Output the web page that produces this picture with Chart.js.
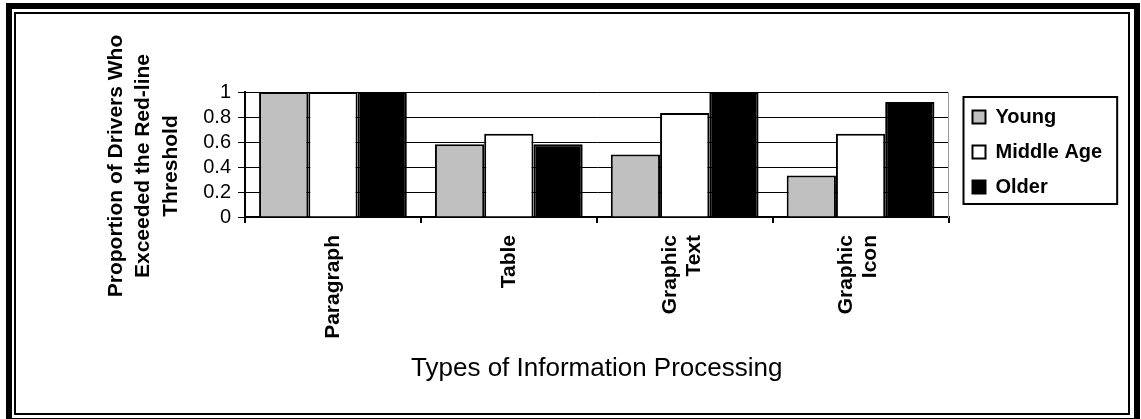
<!DOCTYPE html>
<html>
<head>
<meta charset="utf-8">
<script src="https://cdn.jsdelivr.net/npm/chart.js@4.4.0/dist/chart.umd.min.js"></script>
<style>
  html, body { margin: 0; padding: 0; background: #fff; }
  #wrap { position: relative; width: 1141px; height: 419px; overflow: hidden; }
  #chart { position: absolute; left: 0; top: 0; }
  .frame { position: absolute; box-sizing: border-box; border-style: solid; border-color: #000; pointer-events: none; }
  #outer { left: 6px; top: 3px; width: 1134px; height: 421px; border-width: 6px; }
  #inner { left: 14px; top: 12px; width: 1116px; height: 403px; border-width: 2px; }
</style>
</head>
<body>
<div id="wrap">
  <canvas id="chart" width="1141" height="419"></canvas>
  <div class="frame" id="outer"></div>
  <div class="frame" id="inner"></div>
</div>
<script>
// data
var categories = ['Paragraph', 'Table', ['Graphic', 'Text'], ['Graphic', 'Icon']];
var young = [1, 0.583, 0.5, 0.333];
var middleAge = [1, 0.667, 0.833, 0.667];
var older = [1, 0.583, 1, 0.92];
var seriesNames = ['Young', 'Middle Age', 'Older'];
var yTitle = ['Proportion of Drivers Who', 'Exceeded the Red-line', 'Threshold'];
var xTitle = 'Types of Information Processing';

var FONT = '"Liberation Sans", Arial, Helvetica, sans-serif';
Chart.defaults.font.family = FONT;
Chart.defaults.color = '#000';

// box around the legend
var legendFrame = {
  id: 'legendFrame',
  afterDraw: function(chart) {
    var hb = chart.legend.legendHitBoxes;
    if (!hb || !hb.length) return;
    var left = hb[0].left - 9, right = 0;
    hb.forEach(function(b) { right = Math.max(right, b.left + b.width); });
    right += 15;
    var top = hb[0].top - 10;
    var last = hb[hb.length - 1];
    var bottom = last.top + last.height + 7;
    var ctx = chart.ctx;
    ctx.save();
    ctx.strokeStyle = '#000';
    ctx.lineWidth = 2;
    ctx.strokeRect(left, top, right - left, bottom - top);
    ctx.restore();
  }
};

// three line y title, sits a bit below the plot centre like the original
var yTitlePlugin = {
  id: 'yTitle',
  afterDraw: function(chart) {
    var a = chart.chartArea, ctx = chart.ctx;
    ctx.save();
    ctx.font = 'bold 21px ' + FONT;
    ctx.fillStyle = '#000';
    ctx.textAlign = 'center';
    ctx.textBaseline = 'middle';
    yTitle.forEach(function(line, i) {
      ctx.save();
      ctx.translate(a.left - 129 + i * 27.5, (a.top + a.bottom) / 2 + 11.5);
      ctx.rotate(-Math.PI / 2);
      ctx.fillText(line, 0, 0);
      ctx.restore();
    });
    ctx.restore();
  }
};

// category labels: rotated, multi-line ones centred on the tick as a block
var xLabels = {
  id: 'xLabels',
  afterDraw: function(chart) {
    var s = chart.scales.x, ctx = chart.ctx;
    ctx.save();
    ctx.font = 'bold 21px ' + FONT;
    ctx.fillStyle = '#000';
    ctx.textAlign = 'right';
    ctx.textBaseline = 'middle';
    categories.forEach(function(lab, i) {
      var lines = [].concat(lab);
      var px = s.getPixelForTick(i);
      lines.forEach(function(line, j) {
        ctx.save();
        ctx.translate(px + (j - (lines.length - 1) / 2) * 24 - (lines.length - 1) * 2, s.top + 18);
        ctx.rotate(-Math.PI / 2);
        ctx.fillText(line, 0, 0);
        ctx.restore();
      });
    });
    ctx.restore();
  }
};

function barSet(label, data, fill) {
  return {
    label: label,
    data: data,
    backgroundColor: fill,
    borderColor: '#000',
    borderWidth: 2,
    barPercentage: 1.0,
    categoryPercentage: 0.84
  };
}

new Chart(document.getElementById('chart'), {
  type: 'bar',
  data: {
    labels: categories,
    datasets: [
      barSet(seriesNames[0], young, '#c0c0c0'),
      barSet(seriesNames[1], middleAge, '#ffffff'),
      barSet(seriesNames[2], older, '#000000')
    ]
  },
  options: {
    responsive: false,
    animation: false,
    events: [],
    layout: { padding: { left: 185, top: 92, right: 29, bottom: 0 } },
    plugins: {
      tooltip: { enabled: false },
      legend: {
        position: 'right',
        align: 'start',
        labels: {
          boxWidth: 13,
          boxHeight: 13,
          padding: 15,
          color: '#000',
          font: { size: 20, weight: 'bold' }
        }
      }
    },
    scales: {
      x: {
        ticks: { display: false },
        grid: { display: true, drawOnChartArea: false, color: '#000', lineWidth: 2, tickLength: 6, offset: true },
        border: { color: '#000', width: 2 },
        title: { display: true, text: xTitle, color: '#000', font: { size: 26 }, padding: { top: 0, bottom: 35 } },
        afterFit: function(s) { s.height = 202; }
      },
      y: {
        min: 0,
        max: 1,
        ticks: {
          stepSize: 0.2,
          autoSkip: false,
          color: '#000',
          font: { size: 20, lineHeight: 1 },
          padding: 7,
          callback: function(v) { return String(parseFloat(v.toFixed(1))); }
        },
        grid: { color: '#000', lineWidth: 1, tickLength: 7 },
        border: { color: '#000', width: 2 },
        afterFit: function(s) { s.width = 60; }
      },
      yRight: {
        position: 'right',
        display: true,
        ticks: { display: false },
        grid: { display: false },
        border: { display: true, color: '#9a9a9a', width: 1 },
        afterFit: function(s) { s.width = 9; }
      }
    }
  },
  plugins: [legendFrame, yTitlePlugin, xLabels]
});
</script>
</body>
</html>
